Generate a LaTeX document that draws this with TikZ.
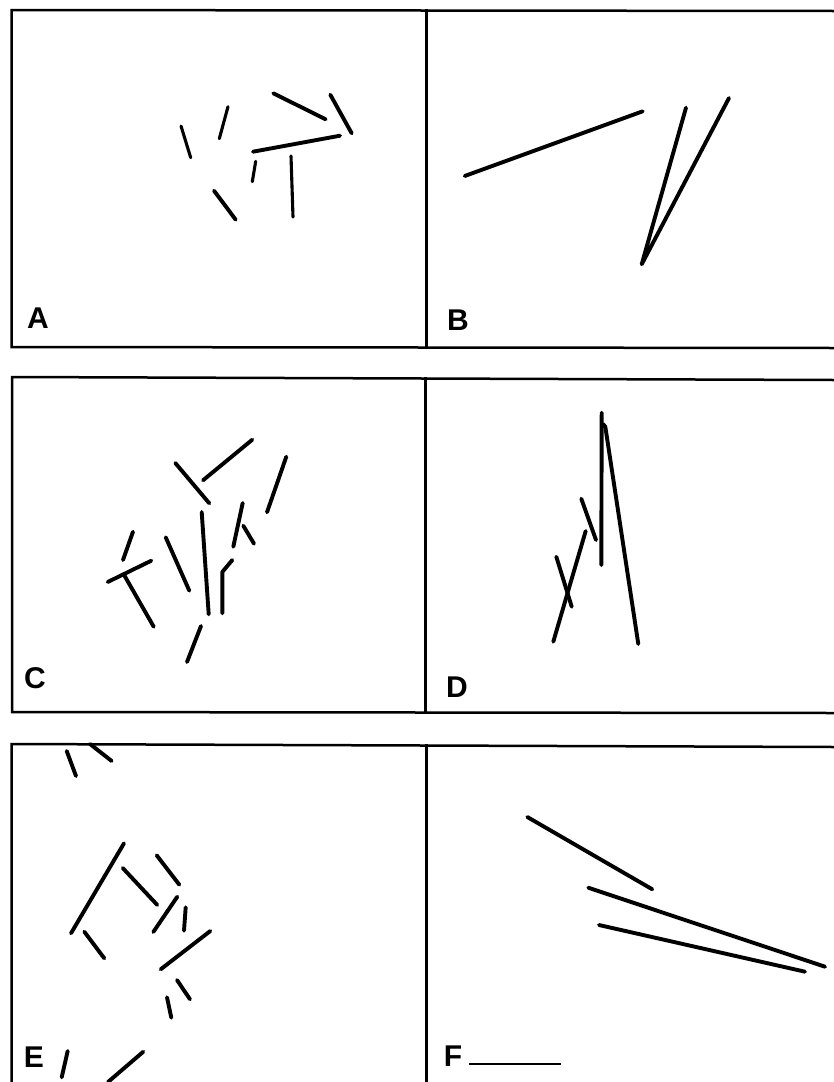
\documentclass[tikz,border=0pt]{standalone}
\usepackage{fontspec}
\setmainfont{Liberation Sans}
\begin{document}
\begin{tikzpicture}[x=1pt,y=-1pt,
  frame/.style={line width=2.5pt,line cap=rect},
  seg/.style={line width=3.9pt,line cap=round,line join=round},
  thin seg/.style={line width=3.1pt,line cap=round},
  lab/.style={font=\fontsize{30}{30}\selectfont\bfseries,inner sep=0pt},
  bar/.style={line width=2pt}]
\useasboundingbox[fill=white] (0,0) rectangle (834,1082);
% frames
\draw[frame] (834,11) -- (11.5,10) -- (11.5,347) -- (834,348);
\draw[frame] (426.5,10.5) -- (426.5,347.5);
\draw[frame] (834,380) -- (12,377) -- (12,712) -- (834,713);
\draw[frame] (425.5,378) -- (425.5,712.5);
\draw[frame] (834,747) -- (11.5,744) -- (11.5,1082);
\draw[frame] (426.5,745) -- (426.5,1082);
% labels
\node[lab] (la) at (38,318) {A};
\node[lab] (lb) at (458,320) {B};
\node[lab] (lc) at (35,678) {C};
\node[lab] (ld) at (457,687) {D};
\node[lab] (le) at (34,1057) {E};
\node[lab] (lf) at (453,1056) {F};
% panel A
\draw[thin seg] (181,126) -- (190.7,157.7);
\draw[thin seg] (228,106.7) -- (219.3,138.7);
\draw[seg] (273.3,93.3) -- (325.7,119.3);
\draw[seg] (330.3,94.7) -- (351.7,133.3);
\draw[seg] (253,151.7) -- (340,135.7);
\draw[thin seg] (255.7,161.3) -- (252.3,181.7);
\draw[thin seg] (291,156) -- (293,217);
\draw[seg] (214,190.7) -- (235.7,219.7);
% panel B
\draw[seg] (464.7,176) -- (642.7,111.3);
\draw[seg] (686,107.7) -- (641.7,264.3) -- (729,98);
% panel C
\draw[seg] (252.3,439.7) -- (203,480.3);
\draw[seg] (175.3,463) -- (209.3,503.3);
\draw[seg] (286.3,456.7) -- (267,512.3);
\draw[seg] (201.7,512) -- (208.7,614.3);
\draw[seg] (242.7,503) -- (233.3,546.7);
\draw[seg] (243.3,525.7) -- (254,543.7);
\draw[seg] (232.3,560) -- (222.3,572) -- (222.3,613.3);
\draw[seg] (133,531.7) -- (123,560);
\draw[seg] (151.3,560.7) -- (107.7,582);
\draw[seg] (124.7,576) -- (153.7,626.7);
\draw[seg] (165.7,537.3) -- (189.3,590.7);
\draw[seg] (201,626) -- (187,662);
% panel D
\draw[seg] (601.7,412.7) -- (601.3,565);
\draw[seg] (603,424) -- (605.3,426.7) -- (638.3,644);
\draw[seg] (581.3,498.7) -- (596,540);
\draw[seg] (585.7,531) -- (553.3,641.7);
\draw[seg] (556.3,556.7) -- (571.7,606.7);
% panel E
\draw[seg] (66.7,751) -- (76,776);
\draw[seg] (90,744) -- (111.7,761);
\draw[seg] (124,843.3) -- (71,933.3);
\draw[seg] (122.7,868) -- (157.3,905);
\draw[seg] (156.7,855.3) -- (179.3,884.7);
\draw[seg] (177.3,896.7) -- (153.3,932);
\draw[seg] (185.7,907.3) -- (184,930.7);
\draw[seg] (84.3,931.7) -- (104.3,958.3);
\draw[seg] (210.3,931) -- (160.7,969.3);
\draw[seg] (177,980) -- (190,999.3);
\draw[seg] (167,997.3) -- (171.3,1017.7);
\draw[seg] (67.7,1051) -- (61.7,1077.3);
\draw[seg] (143.3,1051.7) -- (108,1082);
% panel F
\draw[seg] (527.3,817) -- (652.3,889.3);
\draw[seg] (588.3,887.7) -- (825,966.7);
\draw[seg] (599,925) -- (805,971.7);
\draw[bar] (469.3,1064.3) -- (560.7,1064.3);
\end{tikzpicture}
\end{document}
